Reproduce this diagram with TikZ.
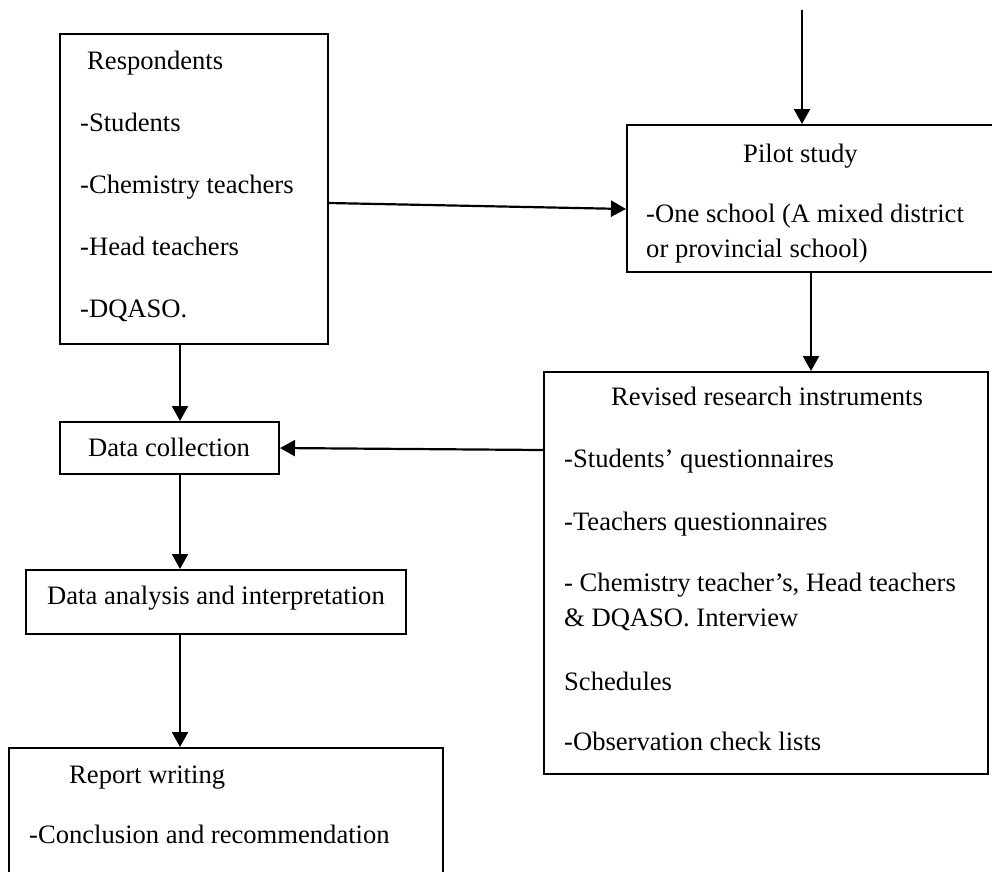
\documentclass[tikz,border=0pt]{standalone}
\usepackage{fontspec}
\setmainfont{Liberation Serif}
\usetikzlibrary{arrows.meta,calc}
\begin{document}
\begin{tikzpicture}[x=1pt,y=-1pt,
  box/.style={draw,line width=2pt,rectangle,inner sep=0pt,anchor=north west},
  txt/.style={anchor=base west,inner sep=0pt,font=\fontsize{26.6}{32}\selectfont},
  arr/.style={line width=2.2pt,-{Triangle[length=15pt,width=16pt]}}]
\clip (0,0) rectangle (992,871);
\fill[white] (0,0) rectangle (992,871);
% boxes
\node[box,minimum width=268pt,minimum height=310pt] (resp) at (59,33) {};
\node[box,minimum width=420pt,minimum height=147pt] (pilot) at (626,124) {};
\node[box,minimum width=444pt,minimum height=402pt] (rev) at (543,371) {};
\node[box,minimum width=219pt,minimum height=52pt] (dc) at (59,421) {};
\node[box,minimum width=380pt,minimum height=64pt] (da) at (25,569) {};
\node[box,minimum width=434pt,minimum height=220pt] (rep) at (8,747) {};
% texts
\node[txt] (r1) at (87,69) {Respondents};
\node[txt] (r2) at (80,131) {-Students};
\node[txt] (r3) at (80,193) {-Chemistry teachers};
\node[txt] (r4) at (80,255) {-Head teachers};
\node[txt] (r5) at (80,317) {-DQASO.};
\node[txt] (p1) at (743,162) {Pilot study};
\node[txt] (p2) at (646,222) {-One school (A mixed district};
\node[txt] (p3) at (646,257) {or provincial school)};
\node[txt] (v1) at (611,405) {Revised research instruments};
\node[txt] (v2) at (564,467) {-Students’ questionnaires};
\node[txt] (v3) at (564,530) {-Teachers questionnaires};
\node[txt] (v4) at (564,591) {- Chemistry teacher’s, Head teachers};
\node[txt] (v5) at (564,626) {\& DQASO. Interview};
\node[txt] (v6) at (564,690) {Schedules};
\node[txt] (v7) at (564,750) {-Observation check lists};
\node[txt] (d1) at (88,456) {Data collection};
\node[txt] (a1) at (47,604) {Data analysis and interpretation};
\node[txt] (w1) at (69,783) {Report writing};
\node[txt] (w2) at (29,843) {-Conclusion and recommendation};
% connectors
\coordinate (top) at (802,10);
\draw[arr] (top) -- (top |- pilot.north);
\draw[arr] ($(resp.north east)+(0,170)$) -- ($(pilot.north west)+(0,85)$);
\draw[arr] ($(pilot.south west)+(185,0)$) -- ($(rev.north west)+(268,0)$);
\draw[arr] ($(rev.north west)+(0,79)$) -- ($(dc.north east)+(0,27)$);
\draw[arr] ($(resp.south west)+(121,0)$) -- ($(dc.north west)+(121,0)$);
\draw[arr] ($(dc.south west)+(121,0)$) -- ($(da.north west)+(155,0)$);
\draw[arr] ($(da.south west)+(155,0)$) -- ($(rep.north west)+(172,0)$);
\end{tikzpicture}
\end{document}
